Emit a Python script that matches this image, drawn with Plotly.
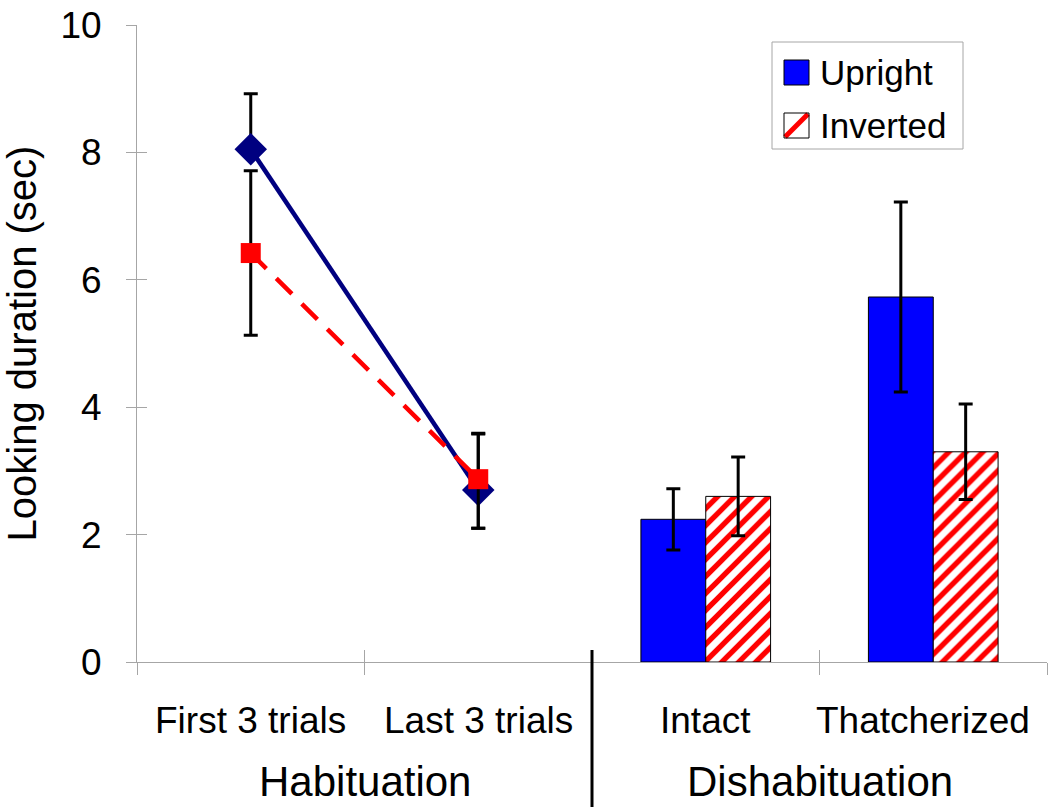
import plotly.graph_objects as go

# ---- data ----
categories = ["First 3 trials", "Last 3 trials", "Intact", "Thatcherized"]
line_cats = ["First 3 trials", "Last 3 trials"]
bar_cats = ["Intact", "Thatcherized"]

upright_line = [8.05, 2.70]
upright_line_err_plus = [0.87, 0.88]
upright_line_err_minus = [0.0, 0.60]
inverted_line = [6.42, 2.87]
inverted_line_err_plus = [1.29, 0.72]
inverted_line_err_minus = [1.29, 0.77]

upright_bar = [2.24, 5.73]
upright_bar_err = [0.48, 1.49]
inverted_bar = [2.60, 3.30]
inverted_bar_err = [0.62, 0.75]

series_names = ["Upright", "Inverted"]
group_labels = ["Habituation", "Dishabituation"]
y_ticks = [0, 2, 4, 6, 8, 10]

FONT = "Liberation Sans, Arial, sans-serif"
AX_GRAY = "#a6a6a6"
BLUE = "#0000ff"
RED = "#ff0000"
NAVY = "#000080"

W, H = 1050, 807
ML, MR, MT, MB = 137, 3, 25, 145
PW, PH = W - ML - MR, H - MT - MB


def px_x(px):
    return (px - ML) / PW


def px_y(py):
    return (H - MB - py) / PH


fig = go.Figure()

fig.add_trace(go.Bar(
    x=bar_cats, y=upright_bar, name=series_names[0], showlegend=False,
    marker=dict(color=BLUE, line=dict(color="black", width=1)),
    error_y=dict(type="data", array=upright_bar_err, color="black", thickness=3, width=7),
))
fig.add_trace(go.Bar(
    x=bar_cats, y=inverted_bar, name=series_names[1], showlegend=False,
    marker=dict(color="white", line=dict(color="black", width=1),
                pattern=dict(shape="/", fgcolor=RED, bgcolor="white", fgopacity=1,
                             size=12, solidity=0.45)),
    error_y=dict(type="data", array=inverted_bar_err, color="black", thickness=3, width=7),
))

fig.add_trace(go.Scatter(
    x=line_cats, y=upright_line, mode="lines+markers", showlegend=False,
    line=dict(color=NAVY, width=4.5),
    marker=dict(symbol="diamond", size=25, color=NAVY),
    error_y=dict(type="data", symmetric=False, array=upright_line_err_plus,
                 arrayminus=upright_line_err_minus, color="black", thickness=3, width=7),
))
fig.add_trace(go.Scatter(
    x=line_cats, y=inverted_line, mode="lines+markers", showlegend=False,
    line=dict(color=RED, width=4.5, dash="22px,14px"),
    marker=dict(symbol="square", size=20, color=RED),
    error_y=dict(type="data", symmetric=False, array=inverted_line_err_plus,
                 arrayminus=inverted_line_err_minus, color="black", thickness=3, width=7),
))

# invisible trace for overlay axes (inside tick marks)
fig.add_trace(go.Scatter(x=[], y=[], xaxis="x2", yaxis="y2", showlegend=False))

fig.update_layout(
    width=W, height=H,
    margin=dict(l=ML, r=MR, t=MT, b=MB, autoexpand=False),
    paper_bgcolor="white", plot_bgcolor="white",
    font=dict(family=FONT, color="black"),
    barmode="group", bargap=0.43, bargroupgap=0,
    showlegend=False,
    xaxis=dict(type="category", categoryorder="array", categoryarray=categories,
               range=[-0.5, 3.5], showline=True, linecolor=AX_GRAY, linewidth=1,
               ticks="outside", ticklen=12, tickcolor=AX_GRAY, tickson="boundaries",
               showticklabels=False, automargin=False,
               showgrid=False, zeroline=False),
    yaxis=dict(range=[0, 10], tickvals=y_ticks, showline=True, linecolor=AX_GRAY, linewidth=1,
               ticks="outside", ticklen=10, tickcolor=AX_GRAY, automargin=False,
               tickfont=dict(size=37, family=FONT), ticklabelstandoff=17,
               title=dict(text="Looking duration (sec)", font=dict(size=40, family=FONT), standoff=14),
               showgrid=False, zeroline=False),
    xaxis2=dict(overlaying="x", range=[-0.5, 3.5], tickvals=[-0.5, 0.5, 1.5, 2.5, 3.5],
                ticks="inside", ticklen=12, tickcolor=AX_GRAY, showticklabels=False,
                showgrid=False, zeroline=False, showline=False, automargin=False),
    yaxis2=dict(overlaying="y", range=[0, 10], tickvals=y_ticks, ticks="inside", ticklen=10,
                tickcolor=AX_GRAY, showticklabels=False, showgrid=False, zeroline=False,
                showline=False, automargin=False),
)

# category labels
for i, cat in enumerate(categories):
    fig.add_annotation(text=cat, xref="x", yref="paper", x=cat, y=px_y(720),
                       xanchor="center", yanchor="middle", showarrow=False,
                       xshift=-10 if i == len(categories) - 1 else 0,
                       font=dict(size=37, family=FONT))

# separator between the two phases
fig.add_shape(type="line", xref="x", yref="paper", x0=1.5, x1=1.5, y0=px_y(650), y1=px_y(807),
              line=dict(color="black", width=3))

# phase labels
for lbl, xc in zip(group_labels, [0.25, 0.75]):
    fig.add_annotation(text=lbl, xref="paper", yref="paper", x=xc, y=px_y(782),
                       xanchor="center", yanchor="middle", showarrow=False,
                       font=dict(size=42, family=FONT))

# legend (drawn by hand so the swatches match the reference size)
fig.add_shape(type="rect", xref="paper", yref="paper",
              x0=px_x(772), x1=px_x(963), y0=px_y(149), y1=px_y(42),
              line=dict(color=AX_GRAY, width=1), fillcolor="white", layer="above")
fig.add_shape(type="rect", xref="paper", yref="paper",
              x0=px_x(784), x1=px_x(809), y0=px_y(85), y1=px_y(60),
              line=dict(color="black", width=1), fillcolor=BLUE, layer="above")
fig.add_shape(type="rect", xref="paper", yref="paper",
              x0=px_x(784), x1=px_x(809), y0=px_y(138), y1=px_y(113),
              line=dict(width=0), fillcolor="white", layer="above")
fig.add_shape(type="line", xref="paper", yref="paper",
              x0=px_x(785), x1=px_x(808), y0=px_y(137), y1=px_y(114),
              line=dict(color=RED, width=5), layer="above")
fig.add_shape(type="rect", xref="paper", yref="paper",
              x0=px_x(784), x1=px_x(809), y0=px_y(138), y1=px_y(113),
              line=dict(color="black", width=1), fillcolor="rgba(0,0,0,0)", layer="above")
for name, yc in zip(series_names, [72, 125]):
    fig.add_annotation(text=name, xref="paper", yref="paper", x=px_x(818), y=px_y(yc),
                       xanchor="left", yanchor="middle", showarrow=False,
                       font=dict(size=35, family=FONT))

fig.write_html("out.html", config={"displayModeBar": False},
               post_script="document.body.style.margin='0';document.body.style.overflow='hidden';")
